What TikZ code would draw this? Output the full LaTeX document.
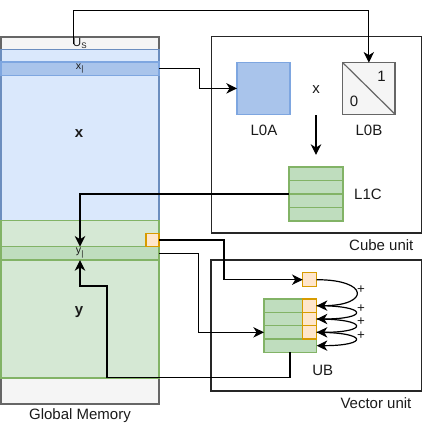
\documentclass[tikz,border=0pt]{standalone}
\usepackage{fontspec}
\setmainfont{Liberation Sans}
\usetikzlibrary{arrows.meta}
\definecolor{bfill}{HTML}{DAE8FC}
\definecolor{bdraw}{HTML}{6C8EBF}
\definecolor{bdark}{HTML}{A9C4EB}
\definecolor{bdarkd}{HTML}{7EA6E0}
\definecolor{gfill}{HTML}{D5E8D4}
\definecolor{gdraw}{HTML}{82B366}
\definecolor{gdark}{HTML}{BFDDBE}
\definecolor{ofill}{HTML}{FFE6CC}
\definecolor{odraw}{HTML}{D79B00}
\definecolor{grfill}{HTML}{F5F5F5}
\definecolor{grdraw}{HTML}{666666}
\definecolor{txt}{HTML}{1A1A1A}
\begin{document}
\begin{tikzpicture}[x=0.75pt,y=-0.75pt,line width=0.9pt,
  sz/.style 2 args={minimum width=#1*0.75pt, minimum height=#2*0.75pt, inner sep=0pt, outer sep=0pt},
  gray box/.style={draw=grdraw, fill=grfill},
  blue box/.style={draw=bdraw, fill=bfill},
  blue dark/.style={draw=bdarkd, fill=bdark},
  green box/.style={draw=gdraw, fill=gfill},
  green dark/.style={draw=gdraw, fill=gdark},
  orange box/.style={draw=odraw, fill=ofill},
  unit box/.style={draw=black!85},
  lbl/.style={font=\fontsize{11.25pt}{13pt}\selectfont, text=txt, inner sep=0pt},
  plus/.style={font=\fontsize{10pt}{11pt}\selectfont, text=txt, inner sep=0pt},
  small/.style={font=\fontsize{8pt}{9pt}\selectfont, text=txt, inner sep=0pt},
  arr/.style={-{Stealth[length=8pt,width=7.8pt,inset=2.4pt]}, line width=0.9pt}]
\useasboundingbox (0,0) rectangle (425,432);

% Global memory column
\node[gray box, sz={158}{367}] (gm) at (80,220.5) {};
\node[gray box, sz={158}{12.5}] (us) at (80,43.25) {};
\node[blue box, sz={158}{171}] (xreg) at (80,135) {};
\node[blue dark, sz={158}{13.5}] (xi) at (80,68.75) {};
\node[green box, sz={158}{157.5}] (yreg) at (80,299.25) {};
\node[green dark, sz={158}{13.3}] (yi) at (80,253.35) {};
\node[orange box, sz={13}{13.5}] (og) at (152.5,239.9) {};
\node[small, font=\fontsize{9pt}{10pt}\selectfont] (ustxt) at (80,43.5) {U\textsubscript{S}};
\node[small] (xitxt) at (80,68.5) {x\textsubscript{|}};
\node[small] (yitxt) at (80,253) {y\textsubscript{|}};
\node[lbl, font=\fontsize{11.25pt}{13pt}\selectfont\bfseries] (xbold) at (79,134) {x};
\node[lbl, font=\fontsize{11.25pt}{13pt}\selectfont\bfseries] (ybold) at (79,312) {y};
\node[lbl] (gmlbl) at (80,416) {Global Memory};

% Cube unit
\node[unit box, sz={210}{196.3}] (cube) at (316.7,134.85) {};
\node[lbl, anchor=east] (cubelbl) at (414,245) {Cube unit};
\node[blue dark, sz={53}{51.5}] (l0a) at (263.5,88.4) {};
\node[gray box, sz={52.3}{51.5}] (l0b) at (368.85,88.4) {};
\draw[grdraw, line width=0.9pt] (l0b.north west) -- (l0b.south east);
\node[lbl] (one) at (381.5,76.5) {1};
\node[lbl] (zero) at (354,101.5) {0};
\node[lbl] (l0alb) at (264,130) {L0A};
\node[lbl] (l0blb) at (369,130) {L0B};
\node[lbl] (xmul) at (316,90) {x};
\coordinate (mulA) at (316,115);
\coordinate (mulB) at (316,155);
\draw[arr] (mulA) -- (mulB);
\node[sz={54}{54}] (l1c) at (316,194) {};
\foreach \i/\y in {1/173.75,2/187.25,3/200.75,4/214.25}
  \node[green dark, sz={54}{13.5}] (l1c\i) at (316,\y) {};
\node[lbl] (l1clb) at (368,194) {L1C};

% Vector unit
\node[unit box, sz={210.7}{131}] (vec) at (316.35,325.5) {};
\node[lbl, anchor=east] (veclbl) at (412,403) {Vector unit};
\node[orange box, sz={14}{14}] (os) at (309.7,279.7) {};
\foreach \i/\y in {1/305.67,2/319,3/332.33,4/345.67}
  \node[green dark, sz={52.7}{13.33}] (ub\i) at (290.35,\y) {};
\foreach \i/\y in {1/305.67,2/319,3/332.33}
  \node[orange box, sz={14}{13.33}] (ubo\i) at (309.7,\y) {};
\node[lbl] (ublb) at (322.7,370.7) {UB};

% connectors
\coordinate (usstart) at (73.3,43.5);
\draw[arr] (usstart) -- (73.3,10.7) -| (l0b.north);
\draw[arr] (xi.east) -- (199.3,68.75) |- (l0a.west);
\draw[arr] (l1c.west) -| (yi.north);
\draw[arr] ([xshift=-0.3pt]ub4.south) |- (107,377.7) |- (80,286) -- (yi.south);
\draw[arr] (og.east) -- (224,239.9) |- (os.west);
\draw[arr] (yi.east) -- (198.3,253.35) |- (ub3.west);

% accumulation loops
\draw[arr] (os.east) .. controls +(53,0) and +(53,0) .. (ubo1.east);
\draw[arr] (ubo1.east) .. controls +(52,0) and +(52,0) .. (ubo2.east);
\draw[arr] (ubo2.east) .. controls +(52,0) and +(52,0) .. (ubo3.east);
\draw[arr] (ubo3.east) .. controls +(52,0) and +(52,0) .. (ub4.east);
\node[plus] (p1) at (361,290) {+};
\node[plus] (p2) at (361,308.5) {+};
\node[plus] (p3) at (361,322) {+};
\node[plus] (p4) at (361,335.5) {+};
\end{tikzpicture}
\end{document}
